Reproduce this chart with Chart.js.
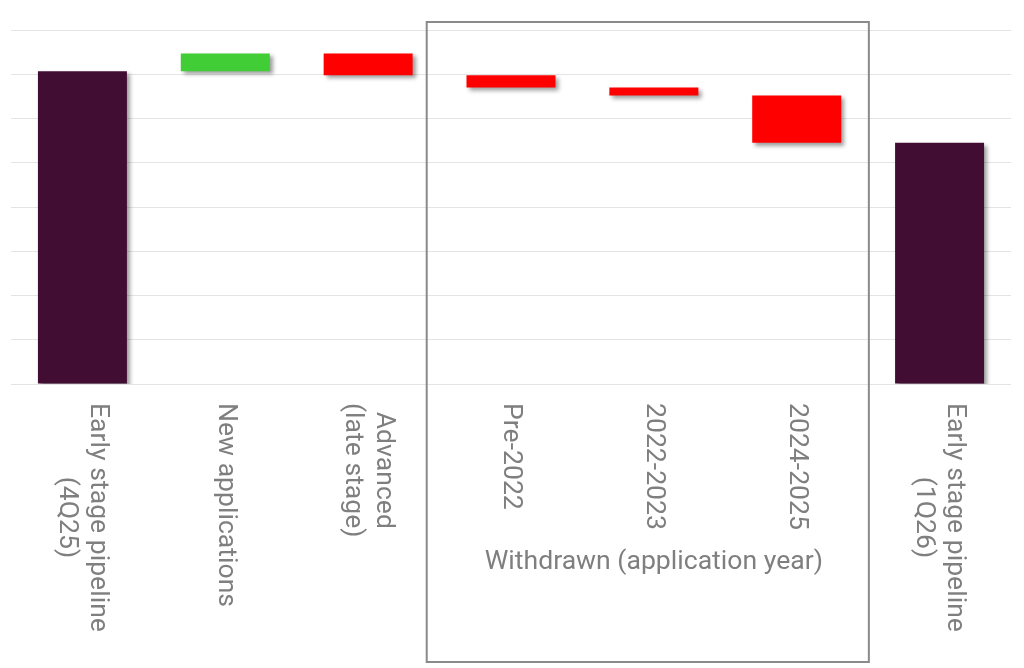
<!DOCTYPE html>
<html>
<head>
<meta charset="utf-8">
<script src="https://cdn.jsdelivr.net/npm/chart.js@4/dist/chart.umd.min.js"></script>
<style>
  html, body { margin: 0; padding: 0; background: #ffffff; }
  #wrap { width: 1024px; height: 668px; }
</style>
</head>
<body>
<div id="wrap"><canvas id="c" width="1024" height="668"></canvas></div>
<script>
// ---- data ----
const categories = [
  ["Early stage pipeline", "(4Q25)"],
  ["New applications"],
  ["Advanced", "(late stage)"],
  ["Pre-2022"],
  ["2022-2023"],
  ["2024-2025"],
  ["Early stage pipeline", "(1Q26)"]
];
// first and last are totals; middle are changes
const startTotal = 7.07;
const changes = [0.40, -0.49, -0.28, -0.18, -1.07];
const endTotal = 5.45;
const groupLabel = "Withdrawn (application year)";
const groupStart = 3, groupEnd = 5;
const yTicksMax = 8;

// ---- build floating ranges ----
const ranges = [];
const colors = [];
ranges.push([0, startTotal]); colors.push('#420d33');
let running = startTotal;
for (const d of changes) {
  ranges.push([running, running + d]);
  colors.push(d >= 0 ? '#41cd35' : '#ff0000');
  running += d;
}
ranges.push([0, endTotal]); colors.push('#420d33');

const FONT = 'Roboto, "Noto Sans", sans-serif';
const TEXT_COLOR = '#7f7f7f';

const shadowPlugin = {
  id: 'shadow',
  beforeDatasetsDraw(chart) {
    const ctx = chart.ctx;
    ctx.save();
    ctx.shadowColor = 'rgba(0,0,0,0.38)';
    ctx.shadowBlur = 4;
    ctx.shadowOffsetX = 3;
    ctx.shadowOffsetY = 3;
  },
  afterDatasetsDraw(chart) {
    chart.ctx.restore();
  }
};

const labelPlugin = {
  id: 'rotLabels',
  afterDraw(chart) {
    const ctx = chart.ctx;
    const xs = chart.scales.x;
    const area = chart.chartArea;
    const fs = 26.6, lh = 31;
    ctx.save();
    ctx.font = fs + 'px ' + FONT;
    ctx.fillStyle = TEXT_COLOR;
    categories.forEach((lines, i) => {
      const xc = xs.getPixelForValue(i);
      const maxW = Math.max(...lines.map(l => ctx.measureText(l).width));
      ctx.save();
      ctx.translate(xc, area.bottom + 19);
      ctx.rotate(Math.PI / 2);
      ctx.textAlign = 'center';
      ctx.textBaseline = 'middle';
      const n = lines.length;
      lines.forEach((l, j) => {
        const yOff = (j - (n - 1) / 2) * lh;
        ctx.fillText(l, maxW / 2, yOff);
      });
      ctx.restore();
    });
    // group box
    const step = xs.getPixelForValue(1) - xs.getPixelForValue(0);
    const left = xs.getPixelForValue(groupStart) - step * 0.59;
    const right = xs.getPixelForValue(groupEnd) + step * 0.505;
    const top = area.top - 8;
    const bottom = chart.height - 6;
    ctx.strokeStyle = '#8a8a8a';
    ctx.lineWidth = 2;
    ctx.strokeRect(left, top, right - left, bottom - top);
    // group label
    ctx.textAlign = 'center';
    ctx.textBaseline = 'middle';
    const gx = (xs.getPixelForValue(groupStart) + xs.getPixelForValue(groupEnd)) / 2;
    ctx.fillText(groupLabel, gx, area.bottom + 178);
    ctx.restore();
  }
};

new Chart(document.getElementById('c'), {
  type: 'bar',
  data: {
    labels: categories.map(l => l.join(' ')),
    datasets: [{
      data: ranges,
      backgroundColor: colors,
      borderWidth: 0,
      categoryPercentage: 1.0,
      barPercentage: 0.623
    }]
  },
  options: {
    responsive: false,
    animation: false,
    layout: { padding: { left: 11, right: 13, top: 30, bottom: 284 } },
    plugins: { legend: { display: false }, tooltip: { enabled: false } },
    scales: {
      x: {
        display: true,
        grid: { display: false, drawTicks: false },
        border: { display: false },
        ticks: { display: false }
      },
      y: {
        min: 0, max: yTicksMax,
        display: true,
        grid: { color: '#e4e4e4', lineWidth: 1, drawTicks: false },
        border: { display: false },
        ticks: { display: false, stepSize: 1 }
      }
    }
  },
  plugins: [shadowPlugin, labelPlugin]
});
</script>
</body>
</html>
